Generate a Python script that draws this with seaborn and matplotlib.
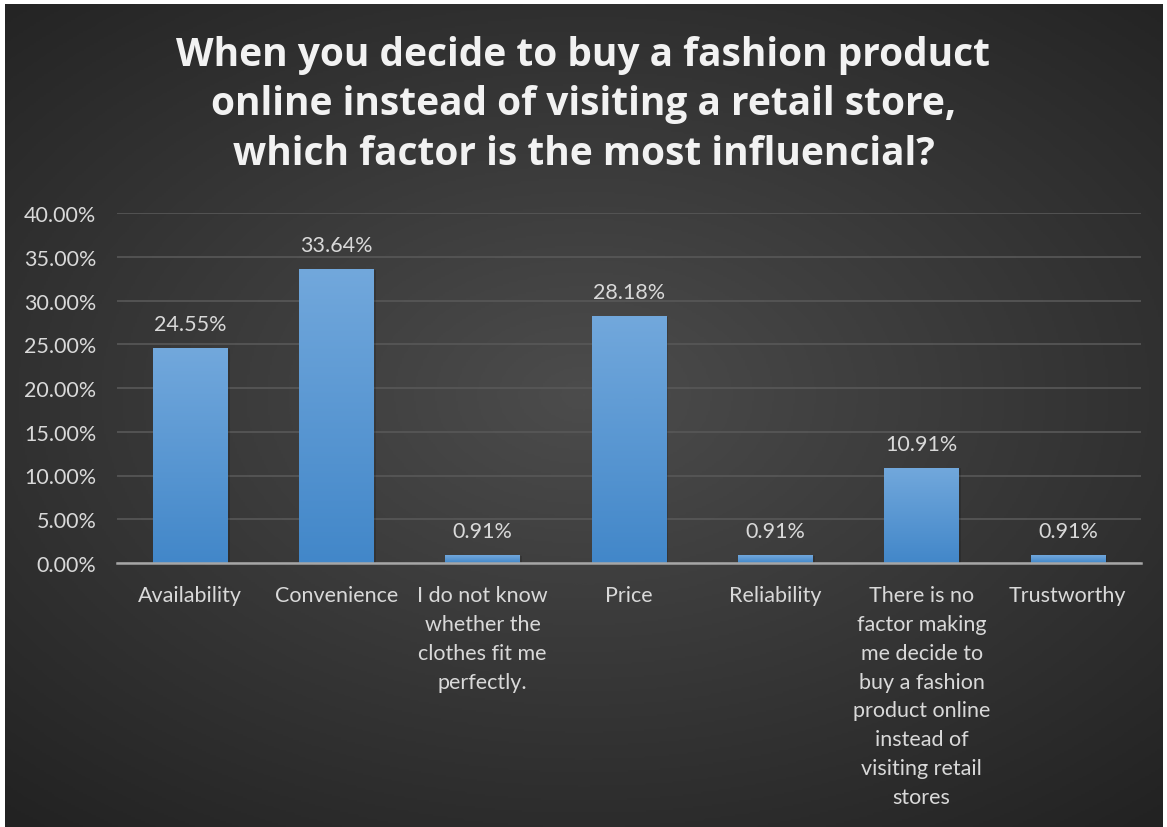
import numpy as np
import pandas as pd
import matplotlib
matplotlib.use("Agg")
import matplotlib.pyplot as plt
import seaborn as sns
from matplotlib.colors import LinearSegmentedColormap

categories = [
    "Availability",
    "Convenience",
    "I do not know\nwhether the\nclothes fit me\nperfectly.",
    "Price",
    "Reliability",
    "There is no\nfactor making\nme decide to\nbuy a fashion\nproduct online\ninstead of\nvisiting retail\nstores",
    "Trustworthy",
]
shares = [24.55, 33.64, 0.91, 28.18, 0.91, 10.91, 0.91]
y_ticks = [0, 5, 10, 15, 20, 25, 30, 35, 40]
title = ("When you decide to buy a fashion product\n"
         "online instead of visiting a retail store,\n"
         "which factor is the most influencial?")

df = pd.DataFrame({"factor": categories, "share": shares})

sns.set_theme(style="dark")
plt.rcParams["font.family"] = ["Lato", "DejaVu Sans"]

W, H = 1167, 828
fig = plt.figure(figsize=(W / 100, H / 100), dpi=100)
fig.patch.set_facecolor("white")

# radial dark background panel
bg = fig.add_axes([5 / W, 0, 1 - 9 / W, 1 - 5 / H])
yy, xx = np.mgrid[-1:1:400j, -1:1:560j]
r = np.sqrt((xx * 0.95) ** 2 + ((yy + 0.05) * 1.05) ** 2)
shade = np.clip(1 - r / 1.45, 0, 1)
bg_cmap = LinearSegmentedColormap.from_list("bg", ["#222222", "#4c4c4c"])
bg.imshow(shade, cmap=bg_cmap, aspect="auto", extent=[0, 1, 0, 1], vmin=0, vmax=1)
bg.set_axis_off()

ax = fig.add_axes([117 / W, 1 - 564 / H, (1141 - 117) / W, (564 - 214) / H])
ax.patch.set_alpha(0)
sns.barplot(data=df, x="factor", y="share", ax=ax, width=0.51,
            color="#5b9bd5", edgecolor="none", saturation=1)

ax.set_ylim(0, 40)
ax.set_xlim(-0.5, len(categories) - 0.5)
ax.set_yticks(y_ticks)
ax.set_yticklabels([f"{v:.2f}%" for v in y_ticks])
ax.set_xlabel("")
ax.set_ylabel("")
ax.tick_params(axis="both", length=0, colors="#d9d9d9", labelsize=15.5)
ax.tick_params(axis="y", pad=15)
ax.tick_params(axis="x", pad=16)
for lbl in ax.get_xticklabels():
    lbl.set_linespacing(1.55)
    lbl.set_verticalalignment("top")
ax.yaxis.grid(True, color="#585858", linewidth=1.2)
ax.xaxis.grid(False)
ax.set_axisbelow(True)
for side in ["top", "right", "left"]:
    ax.spines[side].set_visible(False)
ax.spines["bottom"].set_color("#a6a6a6")
ax.spines["bottom"].set_linewidth(1.8)
ax.spines["bottom"].set_zorder(5)

# vertical gradient fill and soft shadow for each bar
bar_cmap = LinearSegmentedColormap.from_list("bar", ["#4287c9", "#72a8dc"])
grad = np.linspace(0, 1, 256).reshape(-1, 1)
for patch, val in zip(ax.patches, shares):
    x0, w = patch.get_x(), patch.get_width()
    shadow = plt.Rectangle((x0 + 0.015, 0), w, val - 0.1, color="black",
                           alpha=0.15, zorder=1.5, linewidth=0)
    ax.add_patch(shadow)
    im = ax.imshow(grad, cmap=bar_cmap, aspect="auto", origin="lower",
                   extent=[x0, x0 + w, 0, val], zorder=2)
    im.set_clip_path(patch)
    patch.set_zorder(2)
    ax.text(x0 + w / 2, val + 1.6, f"{val:.2f}%", ha="center", va="bottom",
            color="#d9d9d9", fontsize=15.5)

fig.text(0.5, 1 - 105 / H, title, ha="center", va="center", color="#f2f2f2",
         fontsize=28, fontweight="bold", linespacing=1.36,
         family=["Open Sans", "DejaVu Sans"])

fig.savefig("out.png", dpi=100)
